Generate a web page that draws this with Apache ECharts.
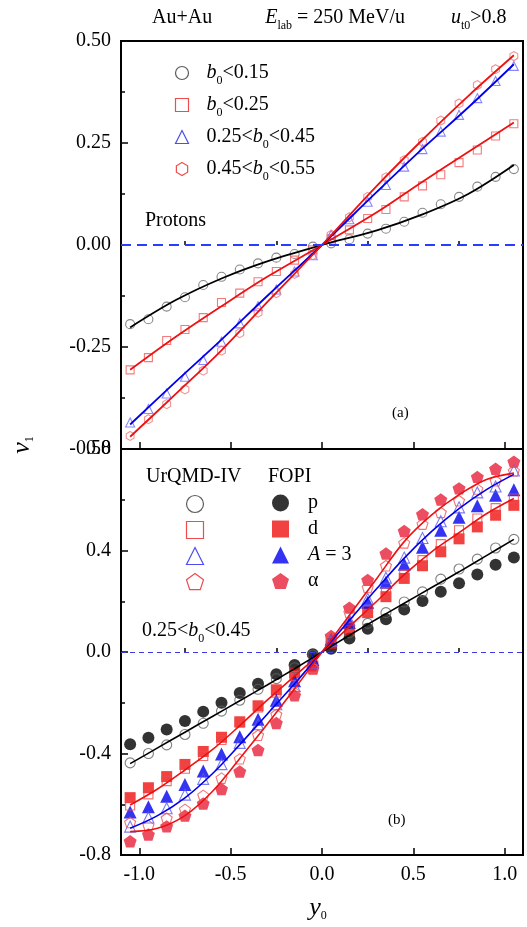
<!DOCTYPE html>
<html>
<head>
<meta charset="utf-8">
<script src="https://cdn.jsdelivr.net/npm/echarts@6/dist/echarts.min.js"></script>
<style>
  html, body { margin: 0; padding: 0; background: #fff; }
  #chart { width: 527px; height: 927px; }
</style>
</head>
<body>
<div id="chart"></div>
<script>
// rapidity bins (y0)
const xs = [-1.05, -0.95, -0.85, -0.75, -0.65, -0.55, -0.45, -0.35, -0.25, -0.15, -0.05,
            0.05, 0.15, 0.25, 0.35, 0.45, 0.55, 0.65, 0.75, 0.85, 0.95, 1.05];

// panel (a): protons, UrQMD, different b0 bins
const a015 = [-0.194, -0.182, -0.151, -0.128, -0.098, -0.078, -0.060, -0.045, -0.031, -0.022, -0.004,
              0.004, 0.014, 0.028, 0.040, 0.057, 0.079, 0.100, 0.118, 0.143, 0.167, 0.186];
const a025 = [-0.306, -0.276, -0.234, -0.207, -0.178, -0.141, -0.118, -0.090, -0.065, -0.037, -0.012,
              0.015, 0.037, 0.065, 0.087, 0.118, 0.145, 0.172, 0.202, 0.233, 0.267, 0.297];
const a2545 = [-0.435, -0.402, -0.364, -0.323, -0.282, -0.237, -0.192, -0.150, -0.109, -0.065, -0.025,
               0.025, 0.063, 0.106, 0.147, 0.192, 0.235, 0.278, 0.319, 0.360, 0.402, 0.439];
const a4555 = [-0.468, -0.427, -0.390, -0.354, -0.308, -0.259, -0.216, -0.166, -0.118, -0.071, -0.025,
               0.025, 0.068, 0.118, 0.166, 0.208, 0.253, 0.305, 0.347, 0.392, 0.431, 0.463];

// panel (a) fit curves
const fitXA = [-1.05, -0.8, -0.55, -0.3, 0, 0.3, 0.55, 0.8, 1.05];
const fa015 = [-0.202, -0.135, -0.082, -0.040, 0, 0.036, 0.075, 0.125, 0.196];
const fa025 = [-0.306, -0.225, -0.150, -0.078, 0, 0.080, 0.155, 0.228, 0.300];
const fa2545 = [-0.440, -0.335, -0.232, -0.125, 0, 0.130, 0.236, 0.337, 0.443];
const fa4555 = [-0.470, -0.365, -0.258, -0.140, 0, 0.145, 0.258, 0.365, 0.465];

// panel (b): UrQMD-IV (open) vs FOPI (filled), 0.25<b0<0.45
const uP = [-0.437, -0.400, -0.366, -0.325, -0.281, -0.233, -0.190, -0.147, -0.105, -0.062, -0.012,
            0.038, 0.076, 0.113, 0.155, 0.197, 0.237, 0.287, 0.327, 0.366, 0.410, 0.444];
const fP = [-0.364, -0.338, -0.305, -0.272, -0.235, -0.200, -0.162, -0.125, -0.088, -0.051, -0.009,
            0.013, 0.053, 0.092, 0.129, 0.167, 0.201, 0.237, 0.271, 0.305, 0.344, 0.372];
const uD = [-0.605, -0.561, -0.509, -0.460, -0.410, -0.347, -0.279, -0.219, -0.160, -0.095, -0.068,
            0.040, 0.100, 0.165, 0.235, 0.305, 0.362, 0.425, 0.480, 0.526, 0.567, 0.605];
const fD = [-0.574, -0.535, -0.491, -0.443, -0.392, -0.336, -0.275, -0.212, -0.149, -0.083, -0.055,
            0.034, 0.087, 0.155, 0.218, 0.290, 0.340, 0.395, 0.446, 0.493, 0.539, 0.578];
const uA3 = [-0.688, -0.652, -0.616, -0.562, -0.500, -0.442, -0.358, -0.285, -0.206, -0.134, -0.042,
             0.045, 0.125, 0.210, 0.293, 0.372, 0.449, 0.515, 0.570, 0.629, 0.652, 0.715];
const fA3 = [-0.631, -0.610, -0.568, -0.522, -0.469, -0.402, -0.334, -0.265, -0.190, -0.113, -0.030,
             0.050, 0.116, 0.196, 0.275, 0.346, 0.413, 0.480, 0.531, 0.576, 0.618, 0.639];
const uAl = [-0.672, -0.684, -0.655, -0.620, -0.565, -0.497, -0.421, -0.328, -0.246, -0.160, -0.062,
             0.060, 0.155, 0.254, 0.340, 0.430, 0.504, 0.550, 0.596, 0.642, 0.675, 0.714];
const fAl = [-0.746, -0.719, -0.687, -0.645, -0.597, -0.540, -0.471, -0.386, -0.280, -0.171, -0.065,
             0.063, 0.175, 0.284, 0.388, 0.477, 0.543, 0.601, 0.645, 0.690, 0.722, 0.750];

// panel (b) fit curves
const fitXB = [-1.05, -0.9, -0.75, -0.6, -0.45, -0.3, -0.15, 0, 0.15, 0.3, 0.45, 0.6, 0.75, 0.9, 1.05];
const fbP = [-0.440, -0.378, -0.316, -0.254, -0.192, -0.130, -0.066, 0, 0.066, 0.130, 0.192, 0.254, 0.316, 0.380, 0.444];
const fbD = [-0.603, -0.540, -0.465, -0.385, -0.290, -0.190, -0.095, 0, 0.100, 0.200, 0.305, 0.395, 0.470, 0.545, 0.605];
const fbA3 = [-0.695, -0.645, -0.575, -0.480, -0.365, -0.245, -0.125, 0, 0.125, 0.250, 0.370, 0.475, 0.565, 0.640, 0.700];
const fbAl = [-0.708, -0.695, -0.645, -0.550, -0.420, -0.285, -0.145, 0, 0.145, 0.290, 0.435, 0.540, 0.620, 0.680, 0.705];

const FONT = "'Liberation Serif', 'DejaVu Serif', serif";
const PENT = 'path://M0,-10L9.51,-3.09L5.88,8.09L-5.88,8.09L-9.51,-3.09Z';
const HEX = 'path://M0,-10L8.66,-5L8.66,5L0,10L-8.66,5L-8.66,-5Z';

const RICH = {
  n: { fontFamily: FONT, fontSize: 20, color: '#000', lineHeight: 20 },
  i: { fontFamily: FONT, fontSize: 20, fontStyle: 'italic', color: '#000', lineHeight: 20 },
  s: { fontFamily: FONT, fontSize: 12, color: '#000', lineHeight: 12, padding: [16, 0, 0, 0] },
};

const pts = (px, py) => px.map((x, i) => [x, py[i]]);

function scatter(name, g, ys, symbol, size, color, filled, z) {
  return {
    name, type: 'scatter', xAxisIndex: g * 2, yAxisIndex: g,
    data: pts(xs, ys), symbol, symbolSize: size, symbolKeepAspect: true,
    itemStyle: filled
      ? { color, borderColor: color, borderWidth: 0 }
      : { color: 'none', borderColor: color, borderWidth: 1.1 },
    z: z || 3, silent: true,
  };
}

function fit(g, fx, fy, color, width, zero) {
  const s = {
    type: 'line', xAxisIndex: g * 2, yAxisIndex: g, data: pts(fx, fy),
    smooth: 0.35, showSymbol: false, lineStyle: { color, width }, z: 4, silent: true,
  };
  if (zero) {
    s.markLine = {
      silent: true, symbol: 'none', label: { show: false },
      lineStyle: zero, data: [{ yAxis: 0 }],
    };
  }
  return s;
}

function xAxes(g) {
  const line = { onZero: false, lineStyle: { color: '#000', width: 2 } };
  return [{
    gridIndex: g, type: 'value', min: -1.1, max: 1.1, position: 'bottom',
    axisLine: line, splitLine: { show: false },
    axisTick: { inside: true, length: 7, customValues: [-1, -0.5, 0, 0.5, 1], lineStyle: { color: '#000', width: 1.5 } },
    axisLabel: {
      show: g === 1, customValues: [-1, -0.5, 0, 0.5, 1], margin: 10,
      formatter: (v) => v.toFixed(1), fontFamily: FONT, fontSize: 20, color: '#000',
    },
  }, {
    gridIndex: g, type: 'value', min: -1.1, max: 1.1, position: 'bottom',
    axisLine: { show: false }, splitLine: { show: false }, axisLabel: { show: false },
    axisTick: { inside: true, length: 4, customValues: [-0.75, -0.25, 0.25, 0.75], lineStyle: { color: '#000', width: 1.5 } },
  }];
}

function yAxis(g, min, max, step, digits) {
  return {
    gridIndex: g, type: 'value', min, max, interval: step,
    axisLine: { onZero: false, lineStyle: { color: '#000', width: 2 } },
    splitLine: { show: false },
    axisTick: { inside: true, length: 7, lineStyle: { color: '#000', width: 1.5 } },
    minorTick: { show: true, splitNumber: 2, length: 4, lineStyle: { color: '#000', width: 1.5 } },
    axisLabel: { formatter: (v) => v.toFixed(digits), fontFamily: FONT, fontSize: 20, color: '#000', margin: 10 },
  };
}

const legA = {
  'b0<0.15': '{i|b}{s|0}{n|<0.15}',
  'b0<0.25': '{i|b}{s|0}{n|<0.25}',
  '0.25<b0<0.45': '{n|0.25<}{i|b}{s|0}{n|<0.45}',
  '0.45<b0<0.55': '{n|0.45<}{i|b}{s|0}{n|<0.55}',
};
const legB = { 'FOPI p': '{n|p}', 'FOPI d': '{n|d}', 'FOPI A=3': '{i|A}{n| = 3}', 'FOPI α': '{n|α}' };

const openIcon = (icon, c) => ({ icon, itemStyle: { color: 'none', borderColor: c, borderWidth: 1.2 } });
const fullIcon = (icon, c) => ({ icon, itemStyle: { color: c, borderWidth: 0 } });

const chart = echarts.init(document.getElementById('chart'), null, { renderer: 'canvas' });

chart.setOption({
  backgroundColor: '#fff',
  animation: false,
  grid: [
    { left: 121, top: 41, width: 402, height: 408, show: true, borderColor: '#000', borderWidth: 2, backgroundColor: 'transparent' },
    { left: 121, top: 449, width: 402, height: 406, show: true, borderColor: '#000', borderWidth: 2, backgroundColor: 'transparent' },
  ],
  xAxis: [...xAxes(0), ...xAxes(1)],
  yAxis: [yAxis(0, -0.5, 0.5, 0.25, 2), yAxis(1, -0.8, 0.8, 0.4, 1)],
  legend: [
    {
      left: 173, top: 59, padding: 0, orient: 'vertical', itemWidth: 13, itemHeight: 13, itemGap: 4,
      selectedMode: false, formatter: (n) => legA[n],
      textStyle: { rich: RICH, padding: [0, 0, 0, 13] },
      data: [
        { name: 'b0<0.15', ...openIcon('circle', '#333') },
        { name: 'b0<0.25', ...openIcon('rect', '#e82020') },
        { name: '0.25<b0<0.45', ...openIcon('triangle', '#2020ee') },
        { name: '0.45<b0<0.55', ...openIcon(HEX, '#e82020') },
      ],
    },
    {
      left: 184, top: 493, padding: 0, orient: 'vertical', itemWidth: 17, itemHeight: 17, itemGap: 4,
      selectedMode: false, formatter: () => '',
      data: [
        { name: 'UrQMD p', ...openIcon('circle', '#333') },
        { name: 'UrQMD d', ...openIcon('rect', '#e82020') },
        { name: 'UrQMD A=3', ...openIcon('triangle', '#2020ee') },
        { name: 'UrQMD α', ...openIcon(PENT, '#e82020') },
      ],
    },
    {
      left: 272, top: 493, padding: 0, orient: 'vertical', itemWidth: 17, itemHeight: 17, itemGap: 6,
      selectedMode: false, formatter: (n) => legB[n],
      textStyle: { rich: RICH, padding: [0, 0, 0, 14] },
      data: [
        { name: 'FOPI p', ...fullIcon('circle', '#000') },
        { name: 'FOPI d', ...fullIcon('rect', '#ee1111') },
        { name: 'FOPI A=3', ...fullIcon('triangle', '#0000ee') },
        { name: 'FOPI α', ...fullIcon(PENT, '#e8203a') },
      ],
    },
  ],
  series: [
    // panel (a)
    scatter('b0<0.15', 0, a015, 'circle', 9, '#6a6a6a', false),
    scatter('b0<0.25', 0, a025, 'rect', 8, '#f05a5a', false),
    scatter('0.25<b0<0.45', 0, a2545, 'triangle', 9, '#6a6aff', false),
    scatter('0.45<b0<0.55', 0, a4555, HEX, 9, '#f07878', false),
    fit(0, fitXA, fa015, '#000', 1.8, { color: '#2a3cff', width: 2, type: [10, 6] }),
    fit(0, fitXA, fa025, '#ee1111', 1.8),
    fit(0, fitXA, fa2545, '#0000ee', 1.8),
    fit(0, fitXA, fa4555, '#ee1111', 1.8),
    // panel (b)
    scatter('FOPI p', 1, fP, 'circle', 12, '#000', true, 2),
    scatter('FOPI d', 1, fD, 'rect', 11, '#ee1111', true, 2),
    scatter('FOPI A=3', 1, fA3, 'triangle', 13, '#0000ee', true, 2),
    scatter('FOPI α', 1, fAl, PENT, 13, '#e8203a', true, 2),
    scatter('UrQMD p', 1, uP, 'circle', 10, '#606060', false),
    scatter('UrQMD d', 1, uD, 'rect', 9, '#f04848', false),
    scatter('UrQMD A=3', 1, uA3, 'triangle', 11, '#5a5aee', false),
    scatter('UrQMD α', 1, uAl, PENT, 11, '#f05050', false),
    fit(1, fitXB, fbP, '#000', 1.6, { color: '#3b3bdd', width: 1, type: [5, 4] }),
    fit(1, fitXB, fbD, '#ee1111', 1.6),
    fit(1, fitXB, fbA3, '#0000ee', 1.6),
    fit(1, fitXB, fbAl, '#ee1111', 1.6),
  ],
  graphic: [
    {
      type: 'text', left: 152, top: 4,
      style: {
        text: '{n|Au+Au}{gapE|}{i|E}{s|lab}{n| = 250 MeV/u}{gapU|}{i|u}{s|t0}{n|>0.8}',
        rich: Object.assign({}, RICH, { gapE: { width: 53 }, gapU: { width: 46 } }),
      },
    },
    { type: 'text', left: 145, top: 211, style: { text: 'Protons', fontFamily: FONT, fontSize: 20, fill: '#000' } },
    { type: 'text', left: 392, top: 406, style: { text: '(a)', fontFamily: FONT, fontSize: 15, fill: '#000' } },
    { type: 'text', left: 388, top: 813, style: { text: '(b)', fontFamily: FONT, fontSize: 15, fill: '#000' } },
    { type: 'text', left: 146, top: 467, style: { text: 'UrQMD-IV', fontFamily: FONT, fontSize: 20, fill: '#000' } },
    { type: 'text', left: 268, top: 467, style: { text: 'FOPI', fontFamily: FONT, fontSize: 20, fill: '#000' } },
    { type: 'text', left: 142, top: 617, style: { text: '{n|0.25<}{i|b}{s|0}{n|<0.45}', rich: RICH } },
    {
      type: 'text', x: 22, y: 445, rotation: Math.PI / 2,
      style: { text: '{i|v}{s|1}', rich: { i: { fontFamily: FONT, fontSize: 26, fontStyle: 'italic', color: '#000' }, s: RICH.s }, textAlign: 'center', textVerticalAlign: 'middle' },
    },
    {
      type: 'text', x: 318, y: 908,
      style: { text: '{i|y}{s|0}', rich: { i: { fontFamily: FONT, fontSize: 26, fontStyle: 'italic', color: '#000' }, s: RICH.s }, textAlign: 'center', textVerticalAlign: 'middle' },
    },
  ],
});

window.addEventListener('resize', () => chart.resize());
</script>
</body>
</html>
